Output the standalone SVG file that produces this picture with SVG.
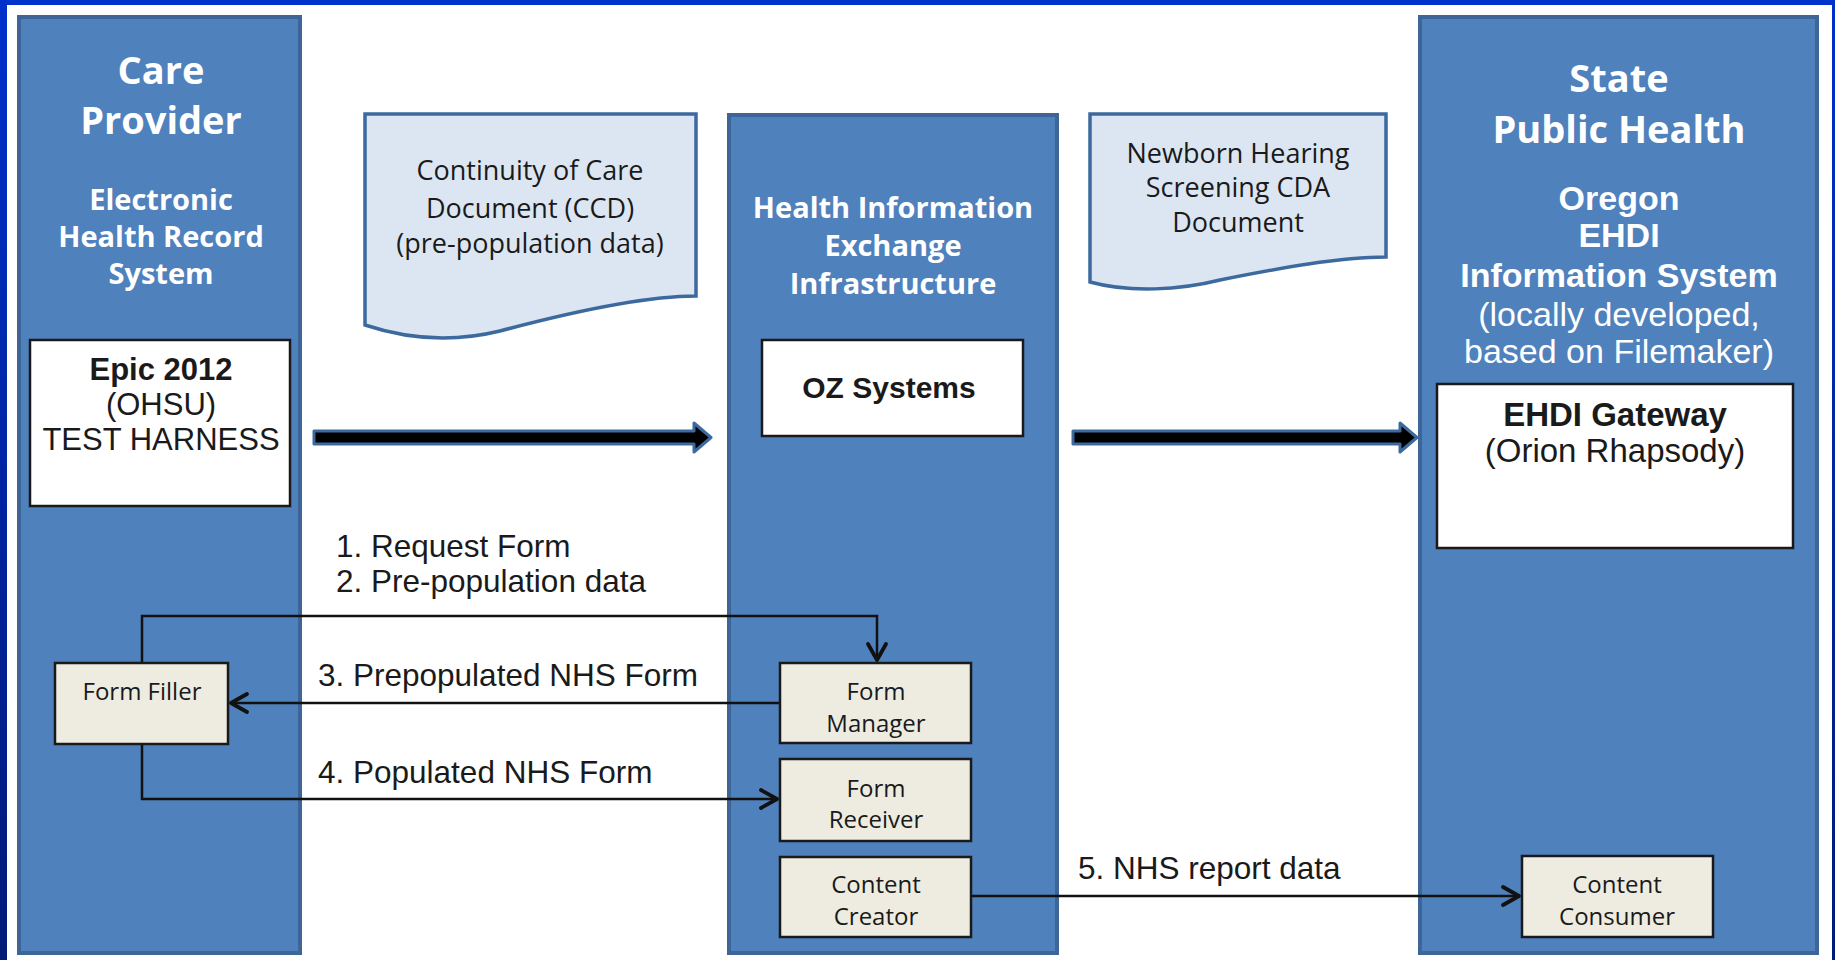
<svg xmlns="http://www.w3.org/2000/svg" width="1835" height="960" viewBox="0 0 1835 960">
  <defs>
    <linearGradient id="frameGrad" x1="0" y1="0" x2="0" y2="1">
      <stop offset="0" stop-color="#0030cc"/>
      <stop offset="1" stop-color="#001a78"/>
    </linearGradient>
    <marker id="chev" markerUnits="userSpaceOnUse" viewBox="-22 -12 26 24" refX="0" refY="0" markerWidth="26" markerHeight="24" orient="auto">
      <path d="M -16 -9 L 0 0 L -16 9" fill="none" stroke="#111" stroke-width="3.8" stroke-linecap="round" stroke-linejoin="round"/>
    </marker>
    <style>
      .col { fill: #4F81BD; stroke: #3D6598; stroke-width: 4; }
      .doc { fill: #DCE6F2; stroke: #3D6A9E; stroke-width: 3.5; }
      .wbox { fill: #ffffff; stroke: #1a1a1a; stroke-width: 2.5; }
      .sbox { fill: #EEECE1; stroke: #1a1a1a; stroke-width: 2.5; }
      .big { fill: #000; stroke: #3D6A9E; stroke-width: 3; stroke-linejoin: round; }
      .conn { fill: none; stroke: #111; stroke-width: 2.5; }
      .ttl { font-family: "Open Sans", "Liberation Sans", sans-serif; font-weight: bold; fill: #ffffff; text-anchor: middle; }
      .sub { font-family: "Open Sans", "Liberation Sans", sans-serif; font-weight: bold; fill: #ffffff; text-anchor: middle; font-size: 29px; }
      .wa { font-family: "Liberation Sans", Arial, sans-serif; fill: #ffffff; text-anchor: middle; font-size: 34px; }
      .doct { font-family: "Open Sans", "Liberation Sans", sans-serif; fill: #1a1a1a; text-anchor: middle; font-size: 27px; }
      .boxt { font-family: "Liberation Sans", Arial, sans-serif; fill: #1a1a1a; text-anchor: middle; }
      .st { font-family: "Open Sans", "Liberation Sans", sans-serif; fill: #1a1a1a; text-anchor: middle; font-size: 24px; }
      .lbl { font-family: "Liberation Sans", Arial, sans-serif; fill: #1a1a1a; font-size: 31.5px; }
    </style>
  </defs>

  <rect x="0" y="0" width="1835" height="960" fill="#ffffff"/>
  <g id="frame">
    <rect x="0" y="0" width="1835" height="5" fill="#0033cc"/>
    <rect x="0" y="0" width="7" height="960" fill="url(#frameGrad)"/>
    <rect x="1832" y="0" width="3" height="960" fill="url(#frameGrad)"/>
  </g>

  <g id="care-provider">
    <rect class="col" x="19" y="17" width="281" height="936"/>
    <text class="ttl" x="161" y="84" font-size="38">Care</text>
    <text class="ttl" x="161" y="134" font-size="38">Provider</text>
    <text class="sub" x="161" y="210">Electronic</text>
    <text class="sub" x="161" y="247">Health Record</text>
    <text class="sub" x="161" y="284">System</text>
  </g>

  <g id="hie">
    <rect class="col" x="729" y="115" width="328" height="838"/>
    <text class="sub" x="893" y="218">Health Information</text>
    <text class="sub" x="893" y="256">Exchange</text>
    <text class="sub" x="893" y="294">Infrastructure</text>
  </g>

  <g id="state-public-health">
    <rect class="col" x="1420" y="17" width="397" height="936"/>
    <text class="ttl" x="1619" y="92" font-size="38">State</text>
    <text class="ttl" x="1619" y="143" font-size="38">Public Health</text>
    <text class="wa" x="1619" y="210" font-weight="bold">Oregon</text>
    <text class="wa" x="1619" y="247" font-weight="bold">EHDI</text>
    <text class="wa" x="1619" y="287" font-weight="bold">Information System</text>
    <text class="wa" x="1619" y="326" fill="#f2f2f2">(locally developed,</text>
    <text class="wa" x="1619" y="363" fill="#f2f2f2">based on Filemaker)</text>
  </g>

  <g id="ccd-document">
    <path class="doc" d="M 365 114 H 696 V 296 C 640 296 560 315 500 331 C 455 342 410 340 365 325 Z"/>
    <text class="doct" x="530" y="180">Continuity of Care</text>
    <text class="doct" x="530" y="218">Document (CCD)</text>
    <text class="doct" x="530" y="253">(pre-population data)</text>
  </g>

  <g id="nhs-cda-document">
    <path class="doc" d="M 1090 114 H 1386 V 257 C 1340 257 1280 268 1220 280 C 1180 290 1130 293 1090 282 Z"/>
    <text class="doct" x="1238" y="163">Newborn Hearing</text>
    <text class="doct" x="1238" y="197">Screening CDA</text>
    <text class="doct" x="1238" y="232">Document</text>
  </g>

  <g id="epic">
    <rect class="wbox" x="30" y="340" width="260" height="166"/>
    <text class="boxt" x="161" y="380" font-size="31" font-weight="bold">Epic 2012</text>
    <text class="boxt" x="161" y="415" font-size="31">(OHSU)</text>
    <text class="boxt" x="161" y="450" font-size="31">TEST HARNESS</text>
  </g>

  <g id="oz-systems">
    <rect class="wbox" x="762" y="340" width="261" height="96"/>
    <text class="boxt" x="889" y="398" font-size="30" font-weight="bold">OZ Systems</text>
  </g>

  <g id="ehdi-gateway">
    <rect class="wbox" x="1437" y="384" width="356" height="164"/>
    <text class="boxt" x="1615" y="426" font-size="33" font-weight="bold">EHDI Gateway</text>
    <text class="boxt" x="1615" y="462" font-size="33">(Orion Rhapsody)</text>
  </g>

  <g id="connectors">
    <path class="big" d="M 314 431 H 694 V 423 L 711 437.5 L 694 452 V 444 H 314 Z"/>
    <path class="big" d="M 1073 431 H 1400 V 423 L 1417 437.5 L 1400 452 V 444 H 1073 Z"/>
    <path class="conn" d="M 142 663 V 616 H 877 V 660" marker-end="url(#chev)"/>
    <path class="conn" d="M 780 703 H 231" marker-end="url(#chev)"/>
    <path class="conn" d="M 142 744 V 799 H 777" marker-end="url(#chev)"/>
    <path class="conn" d="M 971 896 H 1519" marker-end="url(#chev)"/>
    <text class="lbl" x="336" y="557">1. Request Form</text>
    <text class="lbl" x="336" y="592">2. Pre-population data</text>
    <text class="lbl" x="318" y="686">3. Prepopulated NHS Form</text>
    <text class="lbl" x="318" y="783">4. Populated NHS Form</text>
    <text class="lbl" x="1078" y="879">5. NHS report data</text>
  </g>

  <g id="form-filler">
    <rect class="sbox" x="55" y="663" width="173" height="81"/>
    <text class="st" x="142" y="700">Form Filler</text>
  </g>

  <g id="form-manager">
    <rect class="sbox" x="780" y="663" width="191" height="80"/>
    <text class="st" x="876" y="700">Form</text>
    <text class="st" x="876" y="732">Manager</text>
  </g>

  <g id="form-receiver">
    <rect class="sbox" x="780" y="759" width="191" height="82"/>
    <text class="st" x="876" y="797">Form</text>
    <text class="st" x="876" y="828">Receiver</text>
  </g>

  <g id="content-creator">
    <rect class="sbox" x="780" y="857" width="191" height="80"/>
    <text class="st" x="876" y="893">Content</text>
    <text class="st" x="876" y="925">Creator</text>
  </g>

  <g id="content-consumer">
    <rect class="sbox" x="1522" y="856" width="191" height="81"/>
    <text class="st" x="1617" y="893">Content</text>
    <text class="st" x="1617" y="925">Consumer</text>
  </g>
</svg>
